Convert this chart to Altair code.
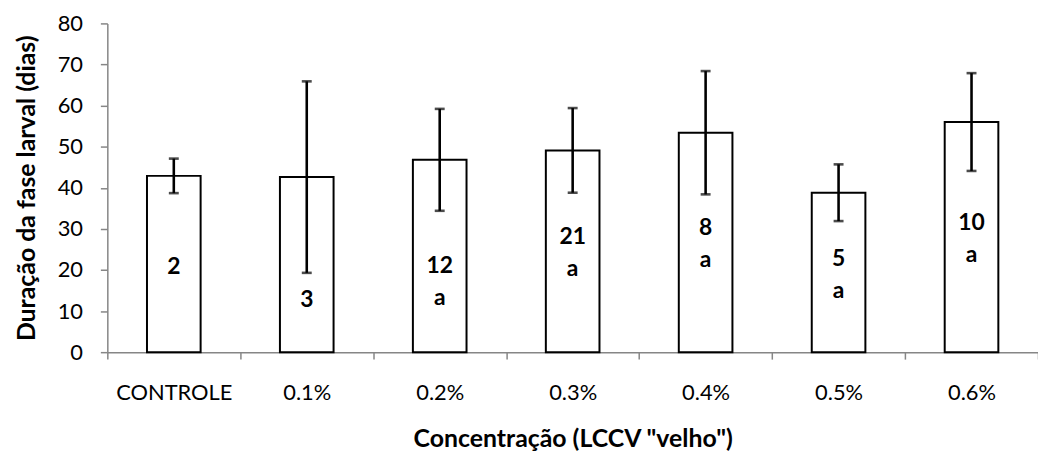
import altair as alt
import pandas as pd

categories = ["CONTROLE", "0.1%", "0.2%", "0.3%", "0.4%", "0.5%", "0.6%"]
means = [42.9, 42.6, 46.8, 49.1, 53.4, 38.8, 56.0]
errors = [4.2, 23.3, 12.4, 10.3, 15.0, 6.9, 11.9]
counts = ["2", "3", "12", "21", "8", "5", "10"]
letters = ["", "", "a", "a", "a", "a", "a"]
label_y = [20.8, 12.8, 20.9, 27.9, 30.1, 22.6, 31.3]

df = pd.DataFrame({
    "cat": categories,
    "mean": means,
    "lo": [m - e for m, e in zip(means, errors)],
    "hi": [m + e for m, e in zip(means, errors)],
    "label": [c + ("\n" + l if l else "") for c, l in zip(counts, letters)],
    "ly": label_y,
})

FONT = "Lato"
AX = "#868686"

x = alt.X("cat:N", sort=categories, scale=alt.Scale(paddingInner=0, paddingOuter=0),
          axis=alt.Axis(title='Concentração (LCCV "velho")', labelAngle=0, tickBand="extent",
                        labelPadding=24, titlePadding=23, labelFontSize=22))
yscale = alt.Scale(domain=[0, 80])
yaxis = alt.Axis(title="Duração da fase larval (dias)", values=list(range(0, 81, 10)),
                 grid=False, labelPadding=18, titlePadding=18, labelFontSize=22)

base = alt.Chart(df)

bars = base.mark_bar(fill="white", stroke="black", strokeWidth=2, size=54).encode(
    x=x, y=alt.Y("mean:Q", scale=yscale, axis=yaxis))

rule = base.mark_rule(color="black", strokeWidth=2.6).encode(
    x=alt.X("cat:N", sort=categories), y=alt.Y("lo:Q"), y2="hi:Q")

cap_lo = base.mark_tick(color="black", thickness=2.6, size=10, orient="horizontal").encode(
    x=alt.X("cat:N", sort=categories), y=alt.Y("lo:Q"))
cap_hi = base.mark_tick(color="black", thickness=2.6, size=10, orient="horizontal").encode(
    x=alt.X("cat:N", sort=categories), y=alt.Y("hi:Q"))

text = base.mark_text(font=FONT, fontSize=23, fontWeight="bold", color="black",
                      lineBreak="\n", lineHeight=32, baseline="middle").encode(
    x=alt.X("cat:N", sort=categories), y=alt.Y("ly:Q"), text="label:N")

chart = alt.layer(bars, rule, cap_lo, cap_hi, text).properties(
    width=937, height=331,
    autosize=alt.AutoSizeParams(type="none"),
    padding={"left": 100, "top": 14, "right": 0, "bottom": 100},
).configure_view(stroke=None).configure_axis(
    domainColor=AX, tickColor=AX, tickSize=7, domainWidth=1.5, tickWidth=1.5,
    labelFont=FONT, labelColor="black",
    titleFont=FONT, titleFontSize=25, titleFontWeight="bold", titleColor="black",
)

chart.save("out.html", embed_options={"renderer": "svg", "actions": False})
